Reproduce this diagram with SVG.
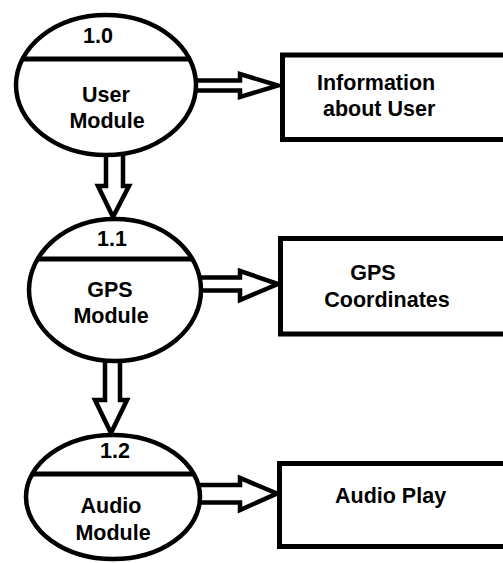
<svg xmlns="http://www.w3.org/2000/svg" width="503" height="563" viewBox="0 0 503 563">
  <style>
    .proc { fill: #fff; stroke: #000; stroke-width: 4.5; }
    .div { stroke: #000; stroke-width: 5; }
    .box { fill: #fff; stroke: #000; stroke-width: 5; }
    .arrow { fill: #fff; stroke: #000; stroke-width: 4.5; stroke-linejoin: miter; }
    text { font-family: "Liberation Sans", Arial, sans-serif; font-weight: bold; font-size: 21.5px; fill: #000; }
    .c { text-anchor: middle; }
  </style>
  <rect width="503" height="563" fill="#fff"/>

  <g id="connectors">
    <path class="arrow" d="M194,80.5 H240 V74 L278,85.5 L240,97 V90.5 H194"/>
    <path class="arrow" d="M199,277.5 H240 V271 L278,284 L240,300 V290.5 H199"/>
    <path class="arrow" d="M198,485 H240 V478 L277,493.5 L240,510 V502.5 H198"/>
    <path class="arrow" d="M106,153 V186 H98 L113,217 L129,186 H123 V153"/>
    <path class="arrow" d="M105,359 V400 H95 L111,433 L127,400 H120 V359"/>
  </g>

  <g id="n10">
    <ellipse class="proc" cx="106" cy="85" rx="90" ry="70"/>
    <line class="div" x1="23" y1="59" x2="191" y2="59"/>
    <text class="c" x="98" y="43">1.0</text>
    <text class="c" x="106" y="102">User</text>
    <text class="c" x="107" y="128">Module</text>
  </g>

  <g id="n11">
    <ellipse class="proc" cx="115" cy="290" rx="86" ry="71"/>
    <line class="div" x1="37" y1="259" x2="191" y2="259"/>
    <text class="c" x="112" y="246">1.1</text>
    <text class="c" x="110" y="297">GPS</text>
    <text class="c" x="111" y="323">Module</text>
  </g>

  <g id="n12">
    <ellipse class="proc" cx="113" cy="497" rx="87" ry="62"/>
    <line class="div" x1="33" y1="474" x2="194" y2="474"/>
    <text class="c" x="115" y="458">1.2</text>
    <text class="c" x="111" y="513">Audio</text>
    <text class="c" x="113" y="540">Module</text>
  </g>

  <g id="info">
    <rect class="box" x="282.5" y="55" width="240" height="84.5"/>
    <text x="317" y="90">Information</text>
    <text x="323" y="116">about User</text>
  </g>

  <g id="gps">
    <rect class="box" x="280.5" y="238.5" width="240" height="95.5"/>
    <text class="c" x="373" y="280">GPS</text>
    <text class="c" x="387" y="307">Coordinates</text>
  </g>

  <g id="audio">
    <rect class="box" x="279.5" y="463.5" width="240" height="83"/>
    <text x="335" y="503">Audio Play</text>
  </g>
</svg>
